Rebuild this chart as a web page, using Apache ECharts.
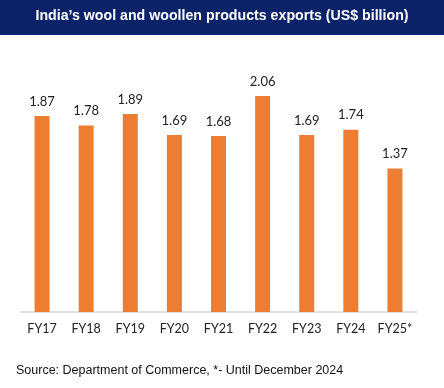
<!DOCTYPE html>
<html><head><meta charset="utf-8">
<script src="https://cdn.jsdelivr.net/npm/echarts@6/dist/echarts.min.js"></script>
<style>html,body{margin:0;padding:0;background:#fff}#c{width:444px;height:388px}</style>
</head><body><div id="c"></div>
<script>
const categories = ['FY17','FY18','FY19','FY20','FY21','FY22','FY23','FY24','FY25*'];
const exportsUSD = [1.87,1.78,1.89,1.69,1.68,2.06,1.69,1.74,1.37];
const titleText = 'India\u2019s wool and woollen products exports (US$ billion)';
const sourceText = 'Source: Department of Commerce, *- Until December 2024';

const chart = echarts.init(document.getElementById('c'));
chart.setOption({
  animation:false,
  backgroundColor:'#fff',
  graphic:[
    {type:'rect',left:0,top:0,shape:{width:444,height:35},style:{fill:'#0d2369'},z:0},
    {type:'text',left:'center',top:9,z:10,style:{text:titleText,fill:'#fff',font:'bold 14.2px "Liberation Sans", Arial, sans-serif'}},
    {type:'text',left:16,top:364,style:{text:sourceText,fill:'#111',font:'12.5px "Liberation Sans", Arial, sans-serif'}}
  ],
  grid:{left:20,right:27,top:50,bottom:76,containLabel:false},
  xAxis:{type:'category',data:categories,
    axisLine:{lineStyle:{color:'#d9d9d9',width:1.5}},
    axisTick:{show:false},
    axisLabel:{interval:0,color:'#222',fontSize:12.5,fontFamily:'Lato, "Open Sans", sans-serif',margin:10}},
  yAxis:{type:'value',min:0,max:2.5,show:false,splitLine:{show:false}},
  series:[{type:'bar',data:exportsUSD,barWidth:15,
    itemStyle:{color:'#ed7d31'},
    label:{show:true,position:'top',distance:8,color:'#222',fontSize:13,fontFamily:'Lato, "Open Sans", sans-serif',
      formatter:p=>p.value.toFixed(2)}}]
});
</script></body></html>
